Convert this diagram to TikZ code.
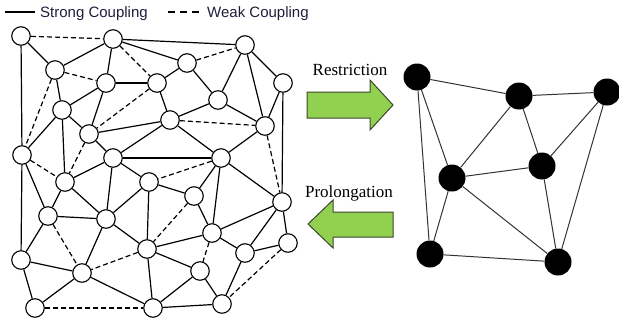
\documentclass[tikz,border=0pt]{standalone}
\usepackage{fontspec}
\setmainfont{Liberation Serif}
\newfontfamily\legendfont{Liberation Sans}
\definecolor{legendink}{RGB}{30,30,60}
\definecolor{arrowfill}{RGB}{146,208,80}
\definecolor{arrowline}{RGB}{60,70,45}
\begin{document}
\begin{tikzpicture}[x=1pt,y=-1pt,
  fine/.style={circle,draw,fill=white,line width=1.1pt,minimum size=18.5pt,inner sep=0pt},
  coarse/.style={circle,fill=black,minimum size=27pt,inner sep=0pt},
  strong/.style={line width=1.2pt},
  weak/.style={line width=1.2pt,dash pattern=on 5pt off 3pt},
  cedge/.style={line width=1pt,draw=black!80},
  bigarrow/.style={fill=arrowfill,draw=arrowline,line width=1pt,line join=miter},
  label/.style={inner sep=0pt,anchor=base,font=\fontsize{17}{20}\selectfont}]
\useasboundingbox (0,0) rectangle (619,327);

% legend
\coordinate (ls1) at (5,12);
\coordinate (ls2) at (35,12);
\coordinate (lw1) at (168,12);
\coordinate (lw2) at (203,12);
\draw[line width=1.2pt] (ls1) -- (ls2);
\draw[line width=1.2pt,dash pattern=on 7pt off 5pt] (lw1) -- (lw2);
\node[inner sep=0pt,anchor=base west,text=legendink,font=\legendfont\fontsize{15}{18}\selectfont] (lstrong) at (40,17) {Strong Coupling};
\node[inner sep=0pt,anchor=base west,text=legendink,font=\legendfont\fontsize{15}{18}\selectfont] (lweak) at (207,17) {Weak Coupling};

% fine grid nodes
\foreach \n/\x/\y in {a/21/36, b/113/39, c/245/45, d/187/63, e/55/70, f/106/83,
  g/157/83, h/283/83, i/218/100, j/62/110, k/170/120, l/265/126, m/89/134,
  n/22/155, o/113/158, p/221/158, q/65/182, r/149/182, s/194/196, t/282/202,
  u/48/216, v/106/219, w/212/233, x/147/249, y/288/243, z/245/253,
  A/21/260, B/82/273, C/200/271, D/35/308, E/153/308, F/222/304}
  \node[fine] (\n) at (\x,\y) {};

% strong couplings
\foreach \p/\q in {a/n, n/A, a/e, e/b, b/f, b/c, b/d, f/g, e/j, n/j, f/j, f/m,
  j/m, g/k, g/d, d/i, c/i, c/l, c/h, h/t, h/l, i/k, i/l, k/m, k/o, k/p, l/p,
  m/o, j/q, n/u, o/p, o/q, o/r, o/v, p/s, p/t, p/w, r/s, r/x, r/v, q/u, q/v,
  u/v, s/w, t/y, t/w, t/z, y/z, w/z, w/x, z/F, x/C, x/E, x/v, C/E, C/F, E/F,
  E/B, B/v, B/A, B/D, A/u, A/D}
  \draw[strong] (\p) -- (\q);

% weak couplings
\foreach \p/\q in {a/b, e/f, b/g, e/n, g/m, d/c, k/l, l/t, m/q, n/q, p/r, s/x,
  y/F, w/C, x/B, D/E, u/B}
  \draw[weak] (\p) -- (\q);

% transfer arrows
\draw[bigarrow] (307,92) -- (370,92) -- (370,80) -- (393,105) -- (370,130)
  -- (370,118) -- (307,118) -- cycle;
\draw[bigarrow] (393,212) -- (333,212) -- (333,200) -- (308,224) -- (333,248)
  -- (333,237) -- (393,237) -- cycle;
\node[label] (restr) at (350,75) {Restriction};
\node[label] (prolong) at (349,197) {Prolongation};

% coarse grid
\foreach \n/\x/\y in {R1/417/77, R2/519/96, R3/607/92, R4/542/166,
  R5/452/178, R6/430/254, R7/558/262}
  \node[coarse] (\n) at (\x,\y) {};
\foreach \p/\q in {R1/R2, R2/R3, R1/R5, R1/R6, R2/R5, R2/R4, R3/R4, R3/R7,
  R5/R4, R5/R6, R5/R7, R4/R7, R6/R7}
  \draw[cedge] (\p) -- (\q);
\end{tikzpicture}
\end{document}
